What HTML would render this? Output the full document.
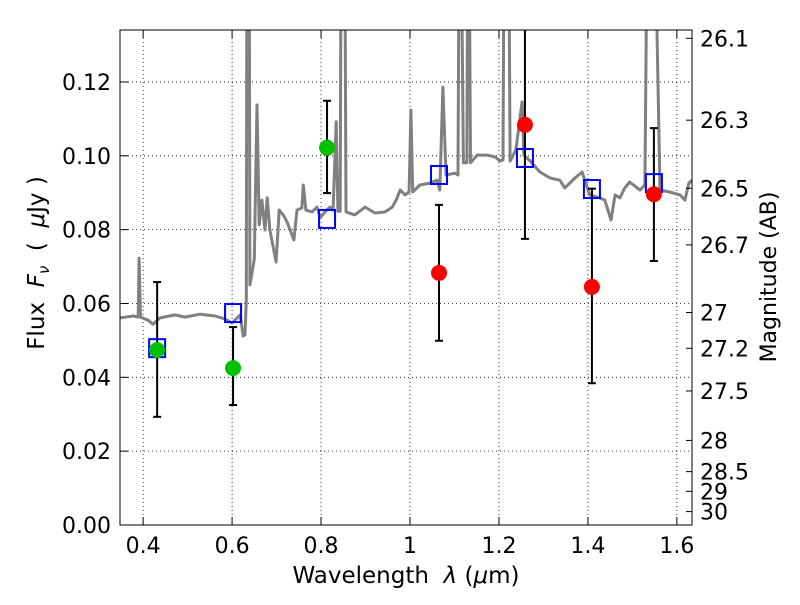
<!DOCTYPE html>
<html><head><meta charset="utf-8">
<style>
html,body{margin:0;padding:0;background:#fff;}
svg text{font-family:"DejaVu Sans","Liberation Sans",sans-serif;}
</style></head>
<body>
<svg id="chart" width="800" height="600" viewBox="0 0 800 600" xmlns="http://www.w3.org/2000/svg">
<rect x="0" y="0" width="800" height="600" fill="#fff"/>
<g id="grid"></g>
<defs><clipPath id="clip"><rect x="120" y="30" width="572" height="495"/></clipPath></defs>
<g id="plot" clip-path="url(#clip)"></g>
<rect x="120" y="30" width="572" height="495" fill="none" stroke="#000" stroke-width="1"/>
<g id="axes"></g>
<text x="406" y="583" font-size="23" text-anchor="middle">Wavelength&#160;&#160;<tspan font-style="italic">λ</tspan> (<tspan font-style="italic">μ</tspan>m)</text>
<text transform="translate(44,263) rotate(-90)" font-size="23" text-anchor="middle">Flux&#160;&#160;<tspan font-style="italic">F</tspan><tspan font-style="italic" font-size="15" dy="5">ν</tspan><tspan dy="-5">&#160;&#160;(&#160;&#160;</tspan><tspan font-style="italic">μ</tspan>Jy&#160;)</text>
<text transform="translate(776,277) rotate(-90)" font-size="22" text-anchor="middle">Magnitude (AB)</text>
</svg>
<script>
const xTicks=[0.4,0.6,0.8,1.0,1.2,1.4,1.6];
const xTickLabels=["0.4","0.6","0.8","1","1.2","1.4","1.6"];
const yTicks=[0,0.02,0.04,0.06,0.08,0.10,0.12];
const yTickLabels=["0.00","0.02","0.04","0.06","0.08","0.10","0.12"];
const magTicks=[26.1,26.3,26.5,26.7,27,27.2,27.5,28,28.5,29,30];
const magTickLabels=["26.1","26.3","26.5","26.7","27","27.2","27.5","28","28.5","29","30"];
const specLam=[0.348,0.378,0.389,0.391,0.394,0.411,0.422,0.438,0.472,0.494,0.528,0.562,0.584,0.600,0.618,0.625,0.629,0.632,0.634,0.638,0.640,0.650,0.656,0.661,0.667,0.674,0.679,0.685,0.699,0.706,0.715,0.724,0.739,0.746,0.757,0.760,0.766,0.780,0.791,0.798,0.809,0.820,0.827,0.834,0.838,0.843,0.846,0.852,0.856,0.876,0.899,0.921,0.944,0.960,0.969,0.978,0.989,0.998,1.002,1.006,1.022,1.045,1.061,1.067,1.074,1.081,1.101,1.108,1.112,1.120,1.128,1.131,1.136,1.151,1.173,1.191,1.202,1.209,1.213,1.220,1.225,1.238,1.252,1.256,1.270,1.292,1.315,1.337,1.348,1.371,1.387,1.393,1.404,1.427,1.438,1.452,1.461,1.472,1.483,1.494,1.517,1.528,1.536,1.545,1.562,1.584,1.607,1.618,1.627,1.634];
const specFlux=[.0561,.0566,.0563,.0723,.0563,.0555,.0544,.0561,.0569,.0563,.0571,.0566,.0558,.0547,.0569,.0512,.0515,.0609,.20,.20,.0650,.0720,.1138,.0813,.0880,.0799,.0886,.0799,.0712,.0853,.0840,.0820,.0772,.0853,.0859,.0921,.0853,.0848,.0861,.0832,.0848,.0861,.0853,.1092,.0850,.0850,.20,.20,.0848,.0840,.0861,.0845,.0848,.0861,.0880,.0907,.0894,.0902,.1124,.0902,.0921,.0926,.0934,.0907,.1186,.0948,.0953,.0948,.20,.0981,.0981,.20,.0981,.1002,.1002,.0997,.0986,.0989,.20,.20,.0986,.1016,.1146,.1002,.0986,.0956,.0940,.0934,.0913,.0940,.0956,.0934,.0894,.0886,.0880,.0826,.0894,.0886,.0913,.0929,.0907,.0921,.20,.20,.0907,.0902,.0894,.0880,.0926,.0934];
const modelLam=[0.4315,0.6022,0.8135,1.0652,1.2584,1.4090,1.5483];
const modelFlux=[0.0479,0.0574,0.0829,0.0948,0.0994,0.0910,0.0926];
const greenLam=[0.4315,0.6022,0.8135];
const greenFlux=[0.0474,0.0425,0.1022];
const greenLo=[0.0293,0.0325,0.0899];
const greenHi=[0.0658,0.0536,0.1149];
const redLam=[1.0652,1.2584,1.4090,1.5483];
const redFlux=[0.0683,0.1084,0.0645,0.0896];
const redLo=[0.0499,0.0775,0.0384,0.0715];
const redHi=[0.0867,0.140,0.0911,0.1075];

const X0=120,X1=692,Y0=525,Y1=30,LMIN=0.348,LMAX=1.634,FMAX=(525-30)/3692;
const xs=l=>X0+(l-LMIN)/(LMAX-LMIN)*(X1-X0);
const ys=f=>Y0-f/FMAX*(Y0-Y1);
const magToFlux=m=>Math.pow(10,(23.9-m)/2.5);
const NS="http://www.w3.org/2000/svg";
function mk(tag,parent,attrs){const e=document.createElementNS(NS,tag);for(const k in attrs)e.setAttribute(k,attrs[k]);parent.appendChild(e);return e;}
const grid=document.getElementById('grid'),plot=document.getElementById('plot'),axes=document.getElementById('axes');

xTicks.forEach((t,i)=>{const x=xs(t);
 const g=mk('line',grid,{x1:x,x2:x,y1:Y1,y2:Y0,stroke:'#000','stroke-width':0.8,'stroke-dasharray':'1,3'});
 
 
 const t1=mk('line',axes,{x1:x,x2:x,y1:Y0,y2:Y0-8,stroke:'#000'});
 
 
 const t2=mk('line',axes,{x1:x,x2:x,y1:Y1,y2:Y1+8,stroke:'#000'});
 
 
 const tx=mk('text',axes,{x:x,y:Y0+28,'font-size':22,'text-anchor':'middle'});tx.textContent=xTickLabels[i];
 
 
});
yTicks.forEach((t,i)=>{const y=ys(t);
 const g=mk('line',grid,{x1:X0,x2:X1,y1:y,y2:y,stroke:'#000','stroke-width':0.8,'stroke-dasharray':'1,3'});
 
 
 const t1=mk('line',axes,{x1:X0,x2:X0+8,y1:y,y2:y,stroke:'#000'});
 
 
 const tx=mk('text',axes,{x:X0-9,y:y+8,'font-size':22,'text-anchor':'end'});tx.textContent=yTickLabels[i];
 
 
});
magTicks.forEach((m,i)=>{const y=ys(magToFlux(m));
 const t1=mk('line',axes,{x1:X1,x2:X1-6,y1:y,y2:y,stroke:'#000'});
 
 
 const tx=mk('text',axes,{x:X1+8,y:y+8,'font-size':22,'text-anchor':'start'});tx.textContent=magTickLabels[i];
 
 
});

const pts=specLam.map((l,i)=>xs(l).toFixed(1)+','+ys(specFlux[i]).toFixed(1)).join(' ');
const sp=mk('polyline',plot,{points:pts,fill:'none',stroke:'#808080','stroke-width':3,'stroke-linejoin':'round'});



function errbar(l,lo,hi,name){const x=xs(l);
 const g=mk('g',plot,{});
 
 
 mk('line',g,{x1:x,x2:x,y1:ys(lo),y2:ys(hi),stroke:'#000','stroke-width':2});
 mk('line',g,{x1:x-4,x2:x+4,y1:ys(lo),y2:ys(lo),stroke:'#000','stroke-width':2});
 mk('line',g,{x1:x-4,x2:x+4,y1:ys(hi),y2:ys(hi),stroke:'#000','stroke-width':2});
}
greenLam.forEach((l,i)=>errbar(l,greenLo[i],greenHi[i],'green-errorbar'));
redLam.forEach((l,i)=>errbar(l,redLo[i],redHi[i],'red-errorbar'));
modelLam.forEach((l,i)=>{
 const r=mk('rect',plot,{x:xs(l)-8,y:ys(modelFlux[i])-9,width:16,height:18,fill:'none',stroke:'#0000ff','stroke-width':2});
 
 
});
greenLam.forEach((l,i)=>{
 const c=mk('circle',plot,{cx:xs(l),cy:ys(greenFlux[i]),r:8,fill:'#00c000'});
 
 
});
redLam.forEach((l,i)=>{
 const c=mk('circle',plot,{cx:xs(l),cy:ys(redFlux[i]),r:8,fill:'#ff0000'});
 
 
});
</script>
</body></html>
